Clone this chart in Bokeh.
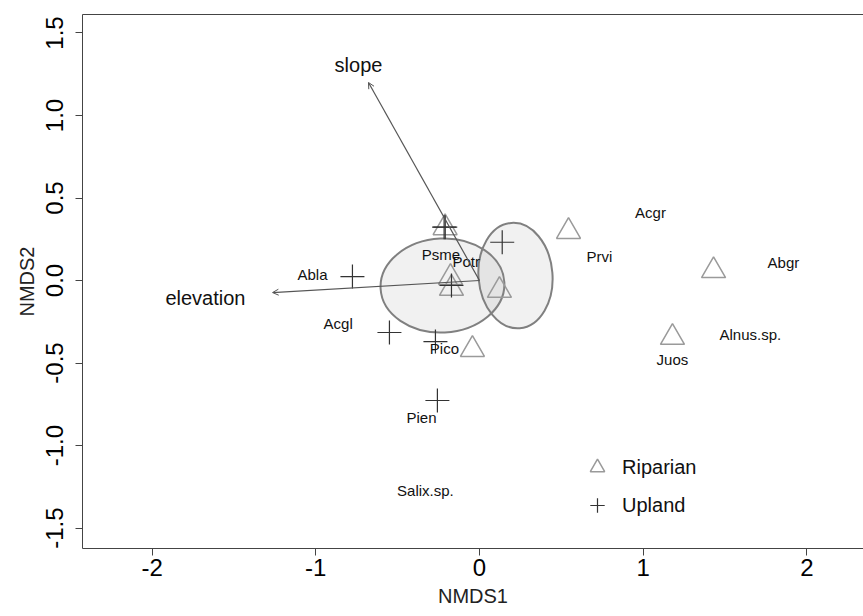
from bokeh.plotting import figure
from bokeh.models import (Arrow, OpenHead, ColumnDataSource, Legend, LegendItem,
                          LinearAxis, Range1d, FixedTicker)
from bokeh.core.properties import value
from bokeh.embed import file_html
from bokeh.resources import INLINE

# --- site scores (NMDS1, NMDS2) ---
riparian_x = [-0.21, -0.177, -0.171, 0.122, -0.043, 0.544, 1.43, 1.179]
riparian_y = [0.32, 0.018, -0.048, -0.06, -0.418, 0.297, 0.06, -0.345]

upland_x = [-0.776, -0.55, -0.269, -0.257, 0.139, -0.216, -0.209, -0.171]
upland_y = [0.024, -0.315, -0.37, -0.727, 0.232, 0.323, 0.323, -0.03]

# --- species scores ---
species = ["Acgr", "Prvi", "Abgr", "Alnus.sp.", "Juos", "Abla", "Acgl",
           "Psme", "Potr", "Pico", "Pien", "Salix.sp."]
species_x = [1.045, 0.733, 1.857, 1.655, 1.179, -1.02, -0.863,
             -0.235, -0.081, -0.214, -0.354, -0.33]
species_y = [0.412, 0.145, 0.109, -0.327, -0.479, 0.035, -0.259,
             0.158, 0.115, -0.412, -0.828, -1.273]

# --- environmental vectors (envfit) ---
vectors = ["elevation", "slope"]
vector_x = [-1.264, -0.678]
vector_y = [-0.073, 1.2]
vector_label_x = [-1.674, -0.739]
vector_label_y = [-0.109, 1.309]

# --- group ellipses: centre, full width/height, rotation (rad) ---
ellipse_x = [-0.226, 0.22]
ellipse_y = [-0.03, 0.03]
ellipse_w = [0.757, 0.452]
ellipse_h = [0.57, 0.64]
ellipse_angle = [0.05, 0.08]

x_ticks = [-2, -1, 0, 1, 2]
x_tick_labels = ["-2", "-1", "0", "1", "2"]
y_ticks = [-1.5, -1.0, -0.5, 0.0, 0.5, 1.0, 1.5]
y_tick_labels = ["-1.5", "-1.0", "-0.5", "0.0", "0.5", "1.0", "1.5"]

FONT = "Liberation Sans"
AXIS_COLOR = "#444444"

p = figure(width=863, height=616,
           x_range=Range1d(-2.425, 2.346), y_range=Range1d(-1.624, 1.612),
           output_backend="svg", toolbar_location=None,
           min_border_left=82, min_border_right=0,
           min_border_top=14, min_border_bottom=68)
p.outline_line_color = None
p.grid.visible = False
p.background_fill_color = "white"
p.border_fill_color = "white"

# axes
for ax in p.xaxis:
    ax.ticker = FixedTicker(ticks=x_ticks)
    ax.major_label_overrides = dict(zip(x_ticks, x_tick_labels))
    ax.axis_label = "NMDS1"
for ax in p.yaxis:
    ax.ticker = FixedTicker(ticks=y_ticks)
    ax.major_label_overrides = dict(zip(y_ticks, y_tick_labels))
    ax.axis_label = "NMDS2"
    ax.major_label_orientation = "parallel"
for ax in p.xaxis + p.yaxis:
    ax.minor_tick_line_color = None
    ax.major_tick_in = 0
    ax.major_tick_out = 7
    ax.axis_line_color = AXIS_COLOR
    ax.major_tick_line_color = AXIS_COLOR
    ax.major_label_text_font = FONT
    ax.major_label_text_font_size = "24px"
    ax.major_label_text_color = "black"
    ax.axis_label_text_font = FONT
    ax.axis_label_text_font_size = "20px"
    ax.axis_label_text_font_style = "normal"
    ax.axis_label_text_color = "#222222"
p.xaxis.major_label_standoff = 3
p.xaxis.axis_label_standoff = 6
p.yaxis.major_label_standoff = 12
p.yaxis.axis_label_standoff = 6

# top border of the box
top = LinearAxis(ticker=FixedTicker(ticks=[]), major_label_text_font_size="0px",
                 axis_line_color=AXIS_COLOR, major_tick_line_color=None,
                 minor_tick_line_color=None)
p.add_layout(top, "above")

# group ellipses
p.ellipse(x=ellipse_x, y=ellipse_y, width=ellipse_w, height=ellipse_h,
          angle=ellipse_angle, fill_color="#888888", fill_alpha=0.12,
          line_color="#808080", line_width=2)

# vectors
vec_src = ColumnDataSource(dict(x0=[0, 0], y0=[0, 0], x1=vector_x, y1=vector_y))
p.add_layout(Arrow(end=OpenHead(size=6, line_color="#555555", line_width=1),
                   source=vec_src, x_start="x0", y_start="y0",
                   x_end="x1", y_end="y1",
                   line_color="#555555", line_width=1.2))
p.text(x=vector_label_x, y=vector_label_y, text=vectors,
       text_font=value(FONT), text_font_size="20px", text_color="#111111",
       text_align="center", text_baseline="middle")

# sites
tri = p.scatter(riparian_x, riparian_y, marker="triangle", size=24,
                fill_color=None, line_color="#9a9a9a", line_width=1.5)
crs = p.scatter(upland_x, upland_y, marker="cross", size=24,
                line_color="#333333", line_width=1.2)

# species
p.text(x=species_x, y=species_y, text=species,
       text_font=value(FONT), text_font_size="15px", text_color="#111111",
       text_align="center", text_baseline="middle")

legend = Legend(items=[LegendItem(label="Riparian", renderers=[tri]),
                       LegendItem(label="Upland", renderers=[crs])],
                location=(497, 25), border_line_color=None,
                background_fill_alpha=0, glyph_height=36, glyph_width=36,
                label_standoff=7, spacing=2, padding=0, margin=0,
                label_text_font=FONT, label_text_font_size="20px",
                label_text_color="#111111")
p.add_layout(legend)

open("out.html", "w").write(file_html(p, INLINE))
